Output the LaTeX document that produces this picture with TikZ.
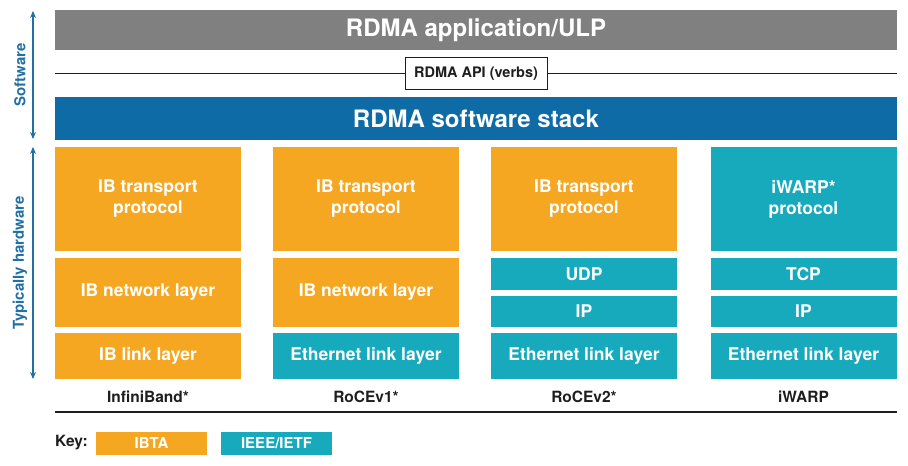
\documentclass[tikz,border=0pt]{standalone}
\usepackage{fontspec}
\setmainfont{TeX Gyre Heros}
\usetikzlibrary{arrows.meta}
\definecolor{ibta}{RGB}{246,167,33}
\definecolor{ieee}{RGB}{23,170,189}
\definecolor{appgray}{RGB}{128,128,128}
\definecolor{stackblue}{RGB}{14,107,166}
\definecolor{sideblue}{RGB}{32,112,165}
\definecolor{dark}{RGB}{30,30,30}
\tikzset{
  layer/.style={draw=none, minimum width=186pt, inner sep=0pt, align=center, text=white, font=\fontsize{17.5}{21}\selectfont\bfseries},
  obox/.style={layer, fill=ibta},
  tbox/.style={layer, fill=ieee},
  bar/.style={draw=none, minimum width=842pt, inner sep=0pt, text=white, font=\fontsize{24}{28}\selectfont\bfseries},
  collabel/.style={text=dark, inner sep=0pt, font=\fontsize{15.5}{18}\selectfont\bfseries},
  keybox/.style={draw=none, minimum width=111pt, minimum height=23pt, inner sep=0pt, text=white, font=\fontsize{15}{17}\selectfont\bfseries},
  sidearrow/.style={draw=sideblue, line width=1.3pt, {Stealth[length=7pt,width=6pt]}-{Stealth[length=7pt,width=6pt]}},
  sidelabel/.style={text=sideblue, rotate=90, inner sep=0pt, font=\fontsize{15}{17}\selectfont\bfseries},
  rule/.style={draw=dark, line width=1pt}
}
\begin{document}
\begin{tikzpicture}[x=1pt, y=-1pt]
\useasboundingbox (0,0) rectangle (908,466);
% top bars
\node[bar, fill=appgray, minimum height=40pt] (app) at (476,30) {RDMA application/ULP};
\coordinate (apiL) at (55,73);
\coordinate (apiR) at (897,73);
\draw[rule] (apiL) -- (apiR);
\node[draw=dark, line width=1pt, fill=white, minimum width=142pt, minimum height=32pt, inner sep=0pt, text=dark, font=\fontsize{14.5}{17}\selectfont\bfseries] (api) at (476,73.5) {RDMA API (verbs)};
\node[bar, fill=stackblue, minimum height=43pt] (stack) at (476,118.5) {RDMA software stack};
% InfiniBand
\node[obox, minimum height=104pt] (t1) at (148,199) {IB transport\\protocol};
\node[obox, minimum height=69pt] (n1) at (148,292.5) {IB network layer};
\node[obox, minimum height=46pt] (l1) at (148,356) {IB link layer};
% RoCEv1
\node[obox, minimum height=104pt] (t2) at (366,199) {IB transport\\protocol};
\node[obox, minimum height=69pt] (n2) at (366,292.5) {IB network layer};
\node[tbox, minimum height=46pt] (l2) at (366,356) {Ethernet link layer};
% RoCEv2
\node[obox, minimum height=104pt] (t3) at (584,199) {IB transport\\protocol};
\node[tbox, minimum height=32pt] (u3) at (584,274) {UDP};
\node[tbox, minimum height=31pt] (i3) at (584,311.5) {IP};
\node[tbox, minimum height=46pt] (l3) at (584,356) {Ethernet link layer};
% iWARP
\node[tbox, minimum height=104pt] (t4) at (803.5,199) {iWARP*\\protocol};
\node[tbox, minimum height=32pt] (u4) at (803.5,274) {TCP};
\node[tbox, minimum height=31pt] (i4) at (803.5,311.5) {IP};
\node[tbox, minimum height=46pt] (l4) at (803.5,356) {Ethernet link layer};
% column labels
\node[collabel] (c1) at (148,397) {InfiniBand*};
\node[collabel] (c2) at (366,397) {RoCEv1*};
\node[collabel] (c3) at (584,397) {RoCEv2*};
\node[collabel] (c4) at (803.5,397) {iWARP};
\coordinate (botL) at (55,412);
\coordinate (botR) at (897,412);
\draw[rule, line width=1.5pt] (botL) -- (botR);
% key
\node[collabel, anchor=west] (key) at (55,443) {Key:};
\node[keybox, fill=ibta] (k1) at (151.5,443.5) {IBTA};
\node[keybox, fill=ieee] (k2) at (276.5,443.5) {IEEE/IETF};
% side arrows
\coordinate (swT) at (33,11);
\coordinate (swB) at (33,139);
\coordinate (hwT) at (33,147);
\coordinate (hwB) at (33,379);
\draw[sidearrow] (swT) -- (swB);
\draw[sidearrow] (hwT) -- (hwB);
\node[sidelabel] (swl) at (20,75) {Software};
\node[sidelabel] (hwl) at (20,263) {Typically hardware};
\end{tikzpicture}
\end{document}
